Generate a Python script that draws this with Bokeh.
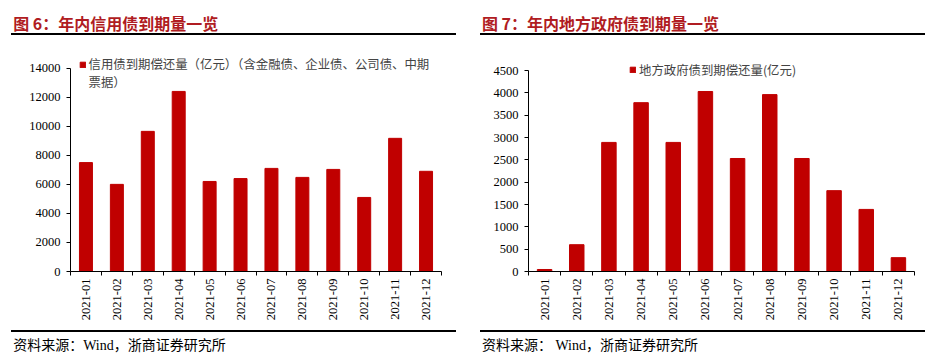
import math
from bokeh.plotting import figure
from bokeh.models import (Range1d, FixedTicker, Legend, LegendItem, Title,
                          InlineStyleSheet)
from bokeh.layouts import row
from bokeh.embed import file_html
from bokeh.resources import INLINE

months = ["2021-01", "2021-02", "2021-03", "2021-04", "2021-05", "2021-06",
          "2021-07", "2021-08", "2021-09", "2021-10", "2021-11", "2021-12"]
credit_values = [7500, 6000, 9650, 12400, 6200, 6400, 7100, 6480, 7030, 5100, 9170, 6900]
local_values = [45, 600, 2890, 3780, 2890, 4030, 2530, 3960, 2530, 1810, 1390, 310]
credit_ticks = [0, 2000, 4000, 6000, 8000, 10000, 12000, 14000]
local_ticks = [0, 500, 1000, 1500, 2000, 2500, 3000, 3500, 4000, 4500]

title_left = "图 6：年内信用债到期量一览"
title_right = "图 7：年内地方政府债到期量一览"
legend_left = ["信用债到期偿还量（亿元）（含金融债、企业债、公司债、中期", "票据）"]
legend_right = ["地方政府债到期偿还量(亿元)"]
source_left = "资料来源：Wind，浙商证券研究所"
source_right = "资料来源：  Wind，浙商证券研究所"

BAR = "#C00000"
TITLE_RED = "#B01C22"
CJK = "Noto Sans CJK SC"
SERIF = "Liberation Serif"

FIG_H = 361
FRAME_TOP, FRAME_BOTTOM = 40, 271


def rule_css(left, width):
    base = ("content:'';position:absolute;z-index:10;height:1.5px;background:#000;"
            f"left:{left}px;width:{width}px;")
    return InlineStyleSheet(css=(
        f":host::before{{{base}top:33.25px;}}"
        f":host::after{{{base}top:330.25px;}}"))


def make_panel(values, yticks, tick_top_px, fig_w, border_left, border_right, bar_width,
               title, legend_lines, legend_loc, source, title_offset, line_left, line_width):
    xs = list(range(1, len(months) + 1))
    bounds = [x - 0.5 for x in xs] + [xs[-1] + 0.5]
    frame_h = FRAME_BOTTOM - FRAME_TOP
    y_end = yticks[-1] * frame_h / (FRAME_BOTTOM - tick_top_px)
    p = figure(width=fig_w, height=FIG_H, output_backend="svg", toolbar_location=None,
               x_range=Range1d(0.5, len(months) + 0.5), y_range=Range1d(yticks[0], y_end),
               min_border_left=border_left, min_border_right=border_right,
               min_border_top=FRAME_TOP, min_border_bottom=FIG_H - FRAME_BOTTOM,
               stylesheets=[rule_css(line_left, line_width)])
    p.outline_line_color = None
    p.grid.visible = False
    p.background_fill_color = "white"
    p.border_fill_color = "white"

    r = p.vbar(x=xs, top=values, width=bar_width, color=BAR)

    xa = p.xaxis[0]
    xa.ticker = FixedTicker(ticks=xs, minor_ticks=bounds)
    xa.major_label_overrides = {x: m for x, m in zip(xs, months)}
    xa.major_label_orientation = math.pi / 2
    xa.major_tick_line_color = None
    xa.major_tick_out = 0
    xa.major_tick_in = 0
    xa.minor_tick_out = 4
    xa.minor_tick_in = 0
    xa.minor_tick_line_color = "black"
    xa.major_label_standoff = 3
    xa.major_label_text_font = SERIF
    xa.major_label_text_font_size = "12.5px"
    xa.major_label_text_color = "black"
    xa.axis_line_color = "black"
    # invisible spacer label that pushes the source note down
    xa.axis_label = "\u3000"
    xa.axis_label_text_font_size = "1px"
    xa.axis_label_text_color = "white"
    xa.axis_label_standoff = 8

    ya = p.yaxis[0]
    ya.ticker = FixedTicker(ticks=yticks)
    ya.bounds = (yticks[0], yticks[-1])
    ya.major_tick_out = 4
    ya.major_tick_in = 0
    ya.minor_tick_line_color = None
    ya.major_label_standoff = 6
    ya.major_label_text_font = SERIF
    ya.major_label_text_font_size = "12.5px"
    ya.major_label_text_color = "black"
    ya.axis_line_color = "black"
    ya.major_tick_line_color = "black"

    items = [LegendItem(label=legend_lines[0], renderers=[r])]
    for extra in legend_lines[1:]:
        ghost = p.vbar(x=[], top=[], width=bar_width, fill_alpha=0, line_alpha=0)
        items.append(LegendItem(label=extra, renderers=[ghost]))
    legend = Legend(items=items,
                    location=legend_loc, padding=0, margin=0, spacing=-3,
                    glyph_width=7, glyph_height=7, label_standoff=3,
                    label_text_font=CJK, label_text_font_size="12.4px",
                    label_text_line_height=1.0, label_height=7,
                    border_line_color=None, background_fill_alpha=0)
    p.add_layout(legend)

    p.add_layout(Title(text=title, align="left", offset=title_offset, standoff=12,
                       text_font=CJK, text_font_size="16px", text_font_style="bold",
                       text_color=TITLE_RED), "above")
    p.add_layout(Title(text=source, align="left", offset=title_offset, standoff=0,
                       text_font=SERIF + ", " + CJK, text_font_size="14px",
                       text_font_style="normal", text_color="black"), "below")
    return p


p1 = make_panel(credit_values, credit_ticks, 67.7, 466, 70, 25, 0.42, title_left,
                legend_left, (8.5, 179.7), source_left, -57.3, 11, 444.7)
p2 = make_panel(local_values, local_ticks, 70, 467, 62, 19, 0.45, title_right,
                legend_right, (101, 192.3), source_right, -46.6, 14, 445)

layout = row(p1, p2, spacing=0)
open("out.html", "w").write(file_html(layout, INLINE))
